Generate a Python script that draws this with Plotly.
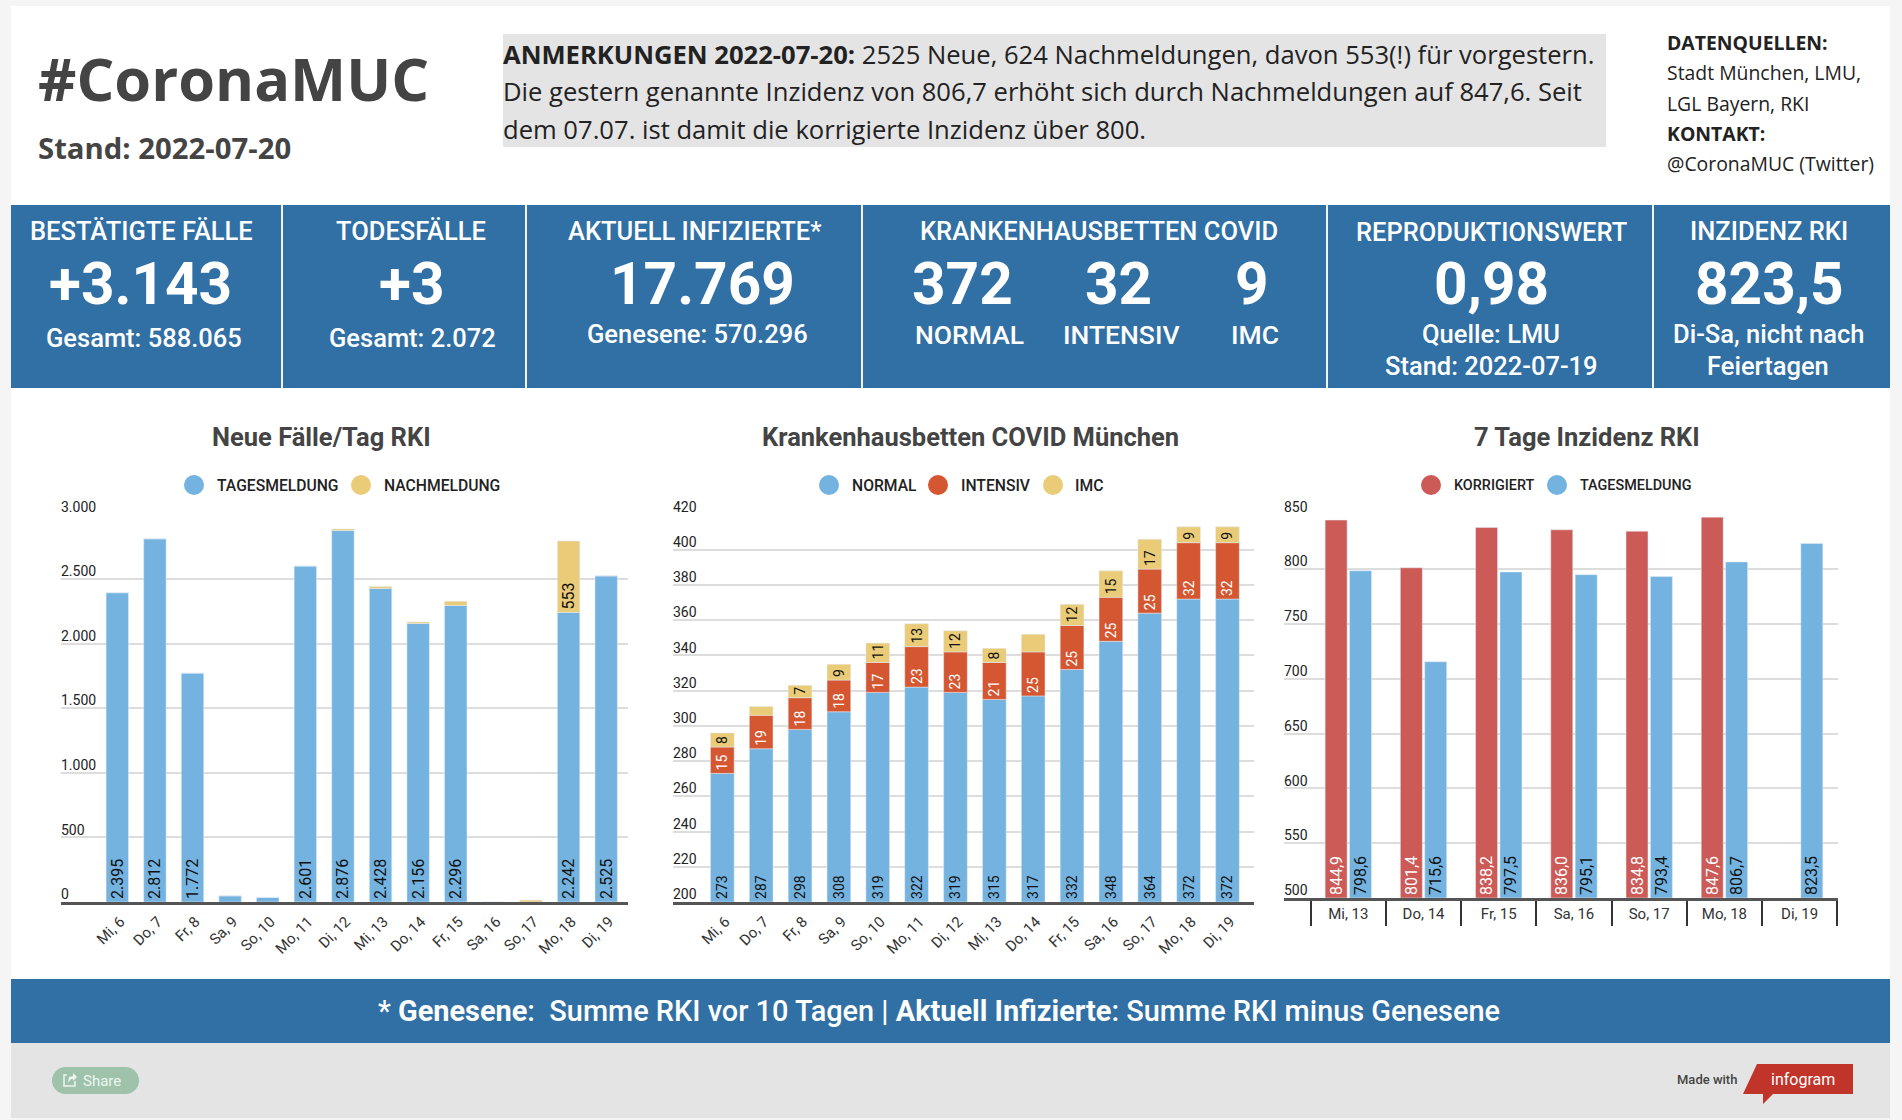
import plotly.graph_objects as go

W, H = 1902, 1120

days_14 = ["Mi, 6", "Do, 7", "Fr, 8", "Sa, 9", "So, 10", "Mo, 11", "Di, 12", "Mi, 13", "Do, 14", "Fr, 15", "Sa, 16", "So, 17", "Mo, 18", "Di, 19"]
days_7 = ["Mi, 13", "Do, 14", "Fr, 15", "Sa, 16", "So, 17", "Mo, 18", "Di, 19"]

# Neue Faelle/Tag RKI
faelle_tages = [2395, 2812, 1772, 48, 36, 2601, 2876, 2428, 2156, 2296, 0, 0, 2242, 2525]
faelle_nach = [0, 0, 0, 0, 0, 0, 12, 14, 12, 33, 0, 15, 553, 0]
faelle_tages_text = ["2.395", "2.812", "1.772", "", "", "2.601", "2.876", "2.428", "2.156", "2.296", "", "", "2.242", "2.525"]
faelle_nach_text = ["", "", "", "", "", "", "", "", "", "", "", "", "553", ""]

# Krankenhausbetten
betten_normal = [273, 287, 298, 308, 319, 322, 319, 315, 317, 332, 348, 364, 372, 372]
betten_intensiv = [15, 19, 18, 18, 17, 23, 23, 21, 25, 25, 25, 25, 32, 32]
betten_imc = [8, 5, 7, 9, 11, 13, 12, 8, 10, 12, 15, 17, 9, 9]
betten_imc_text = ["8", "", "7", "9", "11", "13", "12", "8", "", "12", "15", "17", "9", "9"]
betten_floor = 200

# 7 Tage Inzidenz
inz_korrigiert = [844.9, 801.4, 838.2, 836.0, 834.8, 847.6, None]
inz_tages = [798.6, 715.6, 797.5, 795.1, 793.4, 806.7, 823.5]
inz_floor = 500

BLUE = "#74b3e0"
YELLOW = "#e9cb78"
ORANGE = "#d55732"
RED = "#cc5b58"
CARD = "#3170a5"
DARK = "#444444"
GRID = "#dddddd"
AXIS = "#555555"
INK = "#222222"


def px(x):
    return x / W


def py(y):
    return 1 - y / H


fig = go.Figure()
shapes = []
notes = []


def rect(x0, y0, x1, y1, color):
    shapes.append(dict(type="rect", xref="paper", yref="paper", x0=px(x0), x1=px(x1), y0=py(y0), y1=py(y1),
                       fillcolor=color, line_width=0, layer="below"))


def circle(cx, cy, r, color):
    shapes.append(dict(type="circle", xref="paper", yref="paper", x0=px(cx - r), x1=px(cx + r), y0=py(cy + r), y1=py(cy - r),
                       fillcolor=color, line_width=0))


def poly(points, fill, line=None, close=True):
    path = " ".join(("M" if i == 0 else "L") + f"{px(a)},{py(b)}" for i, (a, b) in enumerate(points))
    shapes.append(dict(type="path", xref="paper", yref="paper", path=path + (" Z" if close else ""), fillcolor=fill,
                       line=dict(color=line or fill, width=1.5 if line else 0)))


def text(x, y, s, size, color="white", font="Roboto", anchor="center", weight=400):
    notes.append(dict(xref="paper", yref="paper", x=px(x), y=py(y), text=s, showarrow=False, xanchor=anchor, yanchor="middle",
                      font=dict(size=size, color=color, family=font, weight=weight), borderpad=0, borderwidth=0))


def legend(items, y, size):
    for cx, tx, label, color in items:
        circle(cx, y, 10, color)
        text(tx, y, label, size, INK, anchor="left", weight=500)


def bar(x, y, color, txt, txtcolor, size, xaxis, yaxis, **kw):
    # the trailing nbsp lifts the rotated label a little off the bar's base
    labels = [t + "\u00a0" if t else "" for t in txt]
    fig.add_trace(go.Bar(x=x, y=y, marker_color=color, text=labels, textposition="inside", insidetextanchor="start", textangle=-90,
                         textfont=dict(family="Roboto", size=size, color=txtcolor), constraintext="none", cliponaxis=False,
                         xaxis=xaxis, yaxis=yaxis, showlegend=False, **kw))


# page pieces
rect(11, 6, 1890, 1118, "white")
rect(503, 34, 1606, 147, "#e4e4e4")
rect(11, 205, 1890, 388, CARD)
for x in [282, 526, 862, 1327, 1653]:
    rect(x - 1, 205, x + 1, 388, "#f0f4f8")
rect(11, 979, 1890, 1043, CARD)
rect(11, 1043, 1890, 1118, "#e4e4e4")

# header
text(38, 78, "<b>#CoronaMUC</b>", 59.5, DARK, "Open Sans", "left")
text(38, 148, "<b>Stand: 2022-07-20</b>", 29.3, DARK, "Open Sans", "left")
text(503, 54, "<b>ANMERKUNGEN 2022-07-20:</b> 2525 Neue, 624 Nachmeldungen, davon 553(!) für vorgestern.", 25.6, INK, "Open Sans", "left")
text(503, 91, "Die gestern genannte Inzidenz von 806,7 erhöht sich durch Nachmeldungen auf 847,6. Seit", 25.6, INK, "Open Sans", "left")
text(503, 129, "dem 07.07. ist damit die korrigierte Inzidenz über 800.", 25.6, INK, "Open Sans", "left")
text(1667, 43, "<b>DATENQUELLEN:</b>", 19.4, INK, "Open Sans", "left")
text(1667, 73, "Stadt München, LMU,", 19.4, INK, "Open Sans", "left")
text(1667, 103, "LGL Bayern, RKI", 19.4, INK, "Open Sans", "left")
text(1667, 133, "<b>KONTAKT:</b>", 19.4, INK, "Open Sans", "left")
text(1667, 163, "@CoronaMUC (Twitter)", 19.4, INK, "Open Sans", "left")

# kpi cards
text(141, 231, "BESTÄTIGTE FÄLLE", 25.5, weight=500)
text(140, 284, "<b>+3.143</b>", 58.5)
text(144, 338, "Gesamt: 588.065", 25.5, weight=500)
text(411, 231, "TODESFÄLLE", 25.5, weight=500)
text(411, 284, "<b>+3</b>", 58.5)
text(412, 338, "Gesamt: 2.072", 25.5, weight=500)
text(695, 231, "AKTUELL INFIZIERTE*", 25.5, weight=500)
text(702, 284, "<b>17.769</b>", 58.5)
text(697, 334, "Genesene: 570.296", 25.5, weight=500)
text(1099, 231, "KRANKENHAUSBETTEN COVID", 25.5, weight=500)
text(963, 284, "<b>372</b>", 58.5)
text(1118, 284, "<b>32</b>", 58.5)
text(1252, 284, "<b>9</b>", 58.5)
text(969, 334, "NORMAL", 26.5, weight=500)
text(1121, 334, "INTENSIV", 26.5, weight=500)
text(1255, 334, "IMC", 26.5, weight=500)
text(1491, 232, "REPRODUKTIONSWERT", 25.5, weight=500)
text(1491, 284, "<b>0,98</b>", 58.5)
text(1491, 334, "Quelle: LMU", 25.5, weight=500)
text(1491, 366, "Stand: 2022-07-19", 25.5, weight=500)
text(1769, 231, "INZIDENZ RKI", 25.5, weight=500)
text(1769, 284, "<b>823,5</b>", 58.5)
text(1768, 334, "Di-Sa, nicht nach", 25.5, weight=500)
text(1768, 366, "Feiertagen", 25.5, weight=500)

# chart titles and legends
text(321, 437, "<b>Neue Fälle/Tag RKI</b>", 25.5, DARK)
text(970, 437, "<b>Krankenhausbetten COVID München</b>", 25.5, DARK)
text(1587, 437, "<b>7 Tage Inzidenz RKI</b>", 25.5, DARK)
legend([(194, 217, "TAGESMELDUNG", BLUE), (361, 384, "NACHMELDUNG", YELLOW)], 485, 15.7)
legend([(829, 852, "NORMAL", BLUE), (938, 961, "INTENSIV", ORANGE), (1053, 1075, "IMC", YELLOW)], 485, 15.7)
legend([(1431, 1454, "KORRIGIERT", RED), (1557, 1580, "TAGESMELDUNG", BLUE)], 485, 14.4)

# footer
text(939, 1011, "* <b>Genesene</b>:  Summe RKI vor 10 Tagen | <b>Aktuell Infizierte</b>: Summe RKI minus Genesene", 28.9, weight=500)
rect(65, 1067, 126, 1094, "#9ec3aa")
circle(65.5, 1080.5, 13.5, "#9ec3aa")
circle(125.5, 1080.5, 13.5, "#9ec3aa")
poly([(67, 1075), (64, 1075), (64, 1086), (75, 1086), (75, 1081)], "rgba(0,0,0,0)", "#eef5f0", close=False)
poly([(68, 1083), (69, 1077), (73, 1076), (73, 1073), (77, 1077), (73, 1081), (73, 1079), (71, 1079)], "#eef5f0")
text(83, 1080.5, "Share", 15, "#eef5f0", anchor="left")
text(1677, 1079, "Made with", 13, "#444444", anchor="left", weight=500)
poly([(1757, 1064), (1853, 1064), (1853, 1094), (1773, 1094), (1763, 1104), (1763, 1094), (1743, 1094)], "#c1342a")
text(1803, 1079, "infogram", 16, "white")

# charts, stacks are built by hand because barmode is shared by all subplots
# bars on a cut axis start at the axis floor so the labels have a base to sit on
betten_mid = [a + b for a, b in zip(betten_normal, betten_intensiv)]
bar(days_14, faelle_tages, BLUE, faelle_tages_text, "#111111", 16, "x", "y", width=0.596)
bar(days_14, faelle_nach, YELLOW, faelle_nach_text, "#111111", 16, "x", "y", width=0.596, base=faelle_tages)
bar(days_14, [v - betten_floor for v in betten_normal], BLUE, [str(v) for v in betten_normal], "#111111", 14, "x2", "y2", width=0.61, base=betten_floor)
bar(days_14, betten_intensiv, ORANGE, [str(v) for v in betten_intensiv], "white", 14, "x2", "y2", width=0.61, base=betten_normal)
bar(days_14, betten_imc, YELLOW, betten_imc_text, "#111111", 14, "x2", "y2", width=0.61, base=betten_mid)
bar(days_7, [v - inz_floor if v else None for v in inz_korrigiert], RED, [f"{v:.1f}".replace(".", ",") if v else "" for v in inz_korrigiert],
    "white", 16, "x3", "y3", width=0.2923, offset=-0.3083, base=inz_floor)
bar(days_7, [v - inz_floor for v in inz_tages], BLUE, [f"{v:.1f}".replace(".", ",") for v in inz_tages],
    "#111111", 16, "x3", "y3", width=0.2923, offset=0.016, base=inz_floor)

y_common = dict(showgrid=True, gridcolor=GRID, gridwidth=1.5, zeroline=False, showline=False, ticks="", automargin=False,
                ticklabelposition="inside top", ticklabeloverflow="allow", ticklabelstandoff=-3, ticklabelshift=2,
                tickfont=dict(family="Roboto", size=14, color=INK))
x_common = dict(type="category", showline=True, linecolor=AXIS, linewidth=3, showgrid=False, automargin=False,
                tickfont=dict(family="Roboto", size=15, color="#333333"))

fig.update_layout(
    width=W, height=H, margin=dict(l=0, r=0, t=0, b=0), autosize=False,
    paper_bgcolor="#f5f5f5", plot_bgcolor="rgba(0,0,0,0)",
    barmode="overlay", separators=",.",
    shapes=shapes, annotations=notes, showlegend=False,
    xaxis=dict(x_common, domain=[px(61), px(628)], anchor="y", range=[-1.497, 13.58], tickangle=-45, ticks="", ticklabelstandoff=2, ticklabelshift=3),
    yaxis=dict(y_common, domain=[py(902), py(514.5)], anchor="x", range=[0, 3000], tickvals=[0, 500, 1000, 1500, 2000, 2500, 3000], tickformat=",d"),
    xaxis2=dict(x_common, domain=[px(673), px(1253.5)], anchor="y2", range=[-1.269, 13.67], tickangle=-45, ticks="", ticklabelstandoff=2, ticklabelshift=3),
    yaxis2=dict(y_common, domain=[py(902), py(514.5)], anchor="x2", range=[betten_floor, 420], dtick=20),
    xaxis3=dict(x_common, domain=[px(1284), px(1838)], anchor="y3", range=[-0.855, 6.51], tickangle=0,
                tickson="boundaries", ticks="outside", ticklen=25, tickwidth=1.5, tickcolor="#333333", ticklabelstandoff=0),
    yaxis3=dict(y_common, domain=[py(898), py(514.5)], anchor="x3", range=[inz_floor, 850], dtick=50),
)

fig.write_html("out.html", config={"displayModeBar": False}, post_script="document.body.style.margin='0';document.body.style.overflow='hidden';")
